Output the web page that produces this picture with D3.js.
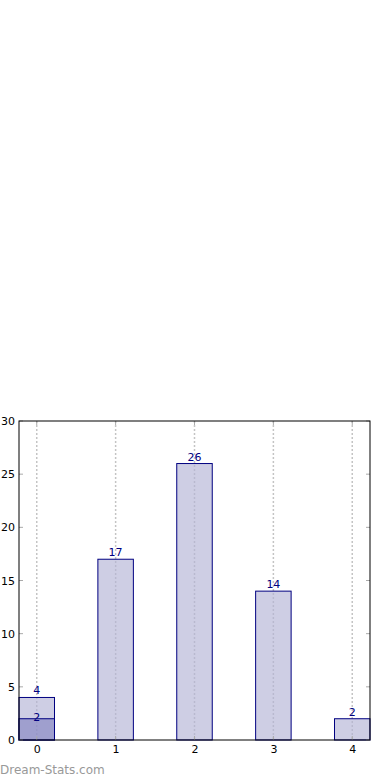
<!DOCTYPE html>
<html>
<head>
<meta charset="utf-8">
<script src="https://cdn.jsdelivr.net/npm/d3@7"></script>
<style>
  body { margin: 0; background: #fff; }
  svg { display: block; font-family: "DejaVu Sans", sans-serif; }
</style>
</head>
<body>
<svg id="svg" width="390" height="780"></svg>
<script>
// chart data
var categories = [0, 1, 2, 3, 4];
var counts = [4, 17, 26, 14, 2];
var highlight = [{cat: 0, value: 2}];
var yTicks = [0, 5, 10, 15, 20, 25, 30];

var margin = {top: 421, right: 20, bottom: 40, left: 19};
var width = 390, height = 780;
var gwidth = width - margin.left - margin.right;
var gheight = height - margin.top - margin.bottom;
var barW = 0.45;

var container = d3.select("#svg");
var svg = container.append("g")
    .attr("transform", "translate(" + margin.left + "," + margin.top + ")");

var x = d3.scaleLinear().domain([-0.225, 4.225]).range([0, gwidth]);
var y = d3.scaleLinear().domain([0, 30]).range([gheight, 0]);

// vertical dotted grid
svg.selectAll(".grid")
    .data(categories)
  .enter().append("line")
    .attr("class", "grid")
    .attr("x1", function(d){ return x(d); })
    .attr("x2", function(d){ return x(d); })
    .attr("y1", 0)
    .attr("y2", gheight)
    .attr("stroke", "#c4c4c4")
    .attr("stroke-width", 1.5)
    .attr("stroke-dasharray", "2,2");

// bars
svg.selectAll(".bar")
    .data(counts)
  .enter().append("rect")
    .attr("class", "bar")
    .attr("x", function(d, i){ return x(categories[i] - barW / 2); })
    .attr("width", x(barW) - x(0))
    .attr("y", function(d){ return y(d); })
    .attr("height", function(d){ return gheight - y(d); })
    .attr("fill", "#b3b3d6")
    .attr("fill-opacity", 0.65)
    .attr("stroke", "#000080")
    .attr("stroke-width", 1);

svg.selectAll(".hbar")
    .data(highlight)
  .enter().append("rect")
    .attr("class", "hbar")
    .attr("x", function(d){ return x(d.cat - barW / 2); })
    .attr("width", x(barW) - x(0))
    .attr("y", function(d){ return y(d.value); })
    .attr("height", function(d){ return gheight - y(d.value); })
    .attr("fill", "#8080c0")
    .attr("fill-opacity", 0.6)
    .attr("stroke", "#000080")
    .attr("stroke-width", 1);

// value labels
svg.selectAll(".lbl")
    .data(counts)
  .enter().append("text")
    .attr("class", "lbl")
    .attr("text-anchor", "middle")
    .attr("font-size", 11)
    .attr("fill", "#000080")
    .attr("x", function(d, i){ return x(categories[i]); })
    .attr("y", function(d){ return y(d) - 3; })
    .text(function(d){ return d; });

svg.selectAll(".hlbl")
    .data(highlight)
  .enter().append("text")
    .attr("class", "hlbl")
    .attr("text-anchor", "middle")
    .attr("font-size", 11)
    .attr("fill", "#000080")
    .attr("x", function(d){ return x(d.cat); })
    .attr("y", function(d){ return y(d.value) + 2; })
    .text(function(d){ return d.value; });

// axes
var xAxis = d3.axisBottom(x).tickValues(categories).tickFormat(d3.format("d"))
    .tickSize(0).tickPadding(5);
var yAxis = d3.axisLeft(y).tickValues(yTicks).tickSize(0).tickPadding(4);

var gx = svg.append("g")
    .attr("transform", "translate(0," + gheight + ")")
    .call(xAxis);
var gy = svg.append("g").call(yAxis);
[gx, gy].forEach(function(g){
    g.select(".domain").remove();
    g.selectAll("text").attr("font-size", 11).attr("fill", "#000")
        .attr("font-family", "DejaVu Sans, sans-serif");
});

// inward tick marks (gray)
svg.selectAll(".ytl").data(yTicks).enter().append("line")
    .attr("x1", 0).attr("x2", 4)
    .attr("y1", function(d){ return y(d); }).attr("y2", function(d){ return y(d); })
    .attr("stroke", "#aaa");
svg.selectAll(".ytr").data(yTicks).enter().append("line")
    .attr("x1", gwidth - 4).attr("x2", gwidth)
    .attr("y1", function(d){ return y(d); }).attr("y2", function(d){ return y(d); })
    .attr("stroke", "#aaa");
svg.selectAll(".xtb").data(categories).enter().append("line")
    .attr("x1", function(d){ return x(d); }).attr("x2", function(d){ return x(d); })
    .attr("y1", gheight - 4).attr("y2", gheight)
    .attr("stroke", "#aaa");
svg.selectAll(".xtt").data(categories).enter().append("line")
    .attr("x1", function(d){ return x(d); }).attr("x2", function(d){ return x(d); })
    .attr("y1", 0).attr("y2", 4)
    .attr("stroke", "#aaa");

// frame
svg.append("rect")
    .attr("x", 0).attr("y", 0)
    .attr("width", gwidth).attr("height", gheight)
    .attr("fill", "none")
    .attr("stroke", "#000")
    .attr("stroke-width", 1);

// watermark
container.append("text")
    .attr("x", 0)
    .attr("y", 774)
    .attr("font-size", 12)
    .attr("fill", "#999")
    .text("Dream-Stats.com");
</script>
</body>
</html>
